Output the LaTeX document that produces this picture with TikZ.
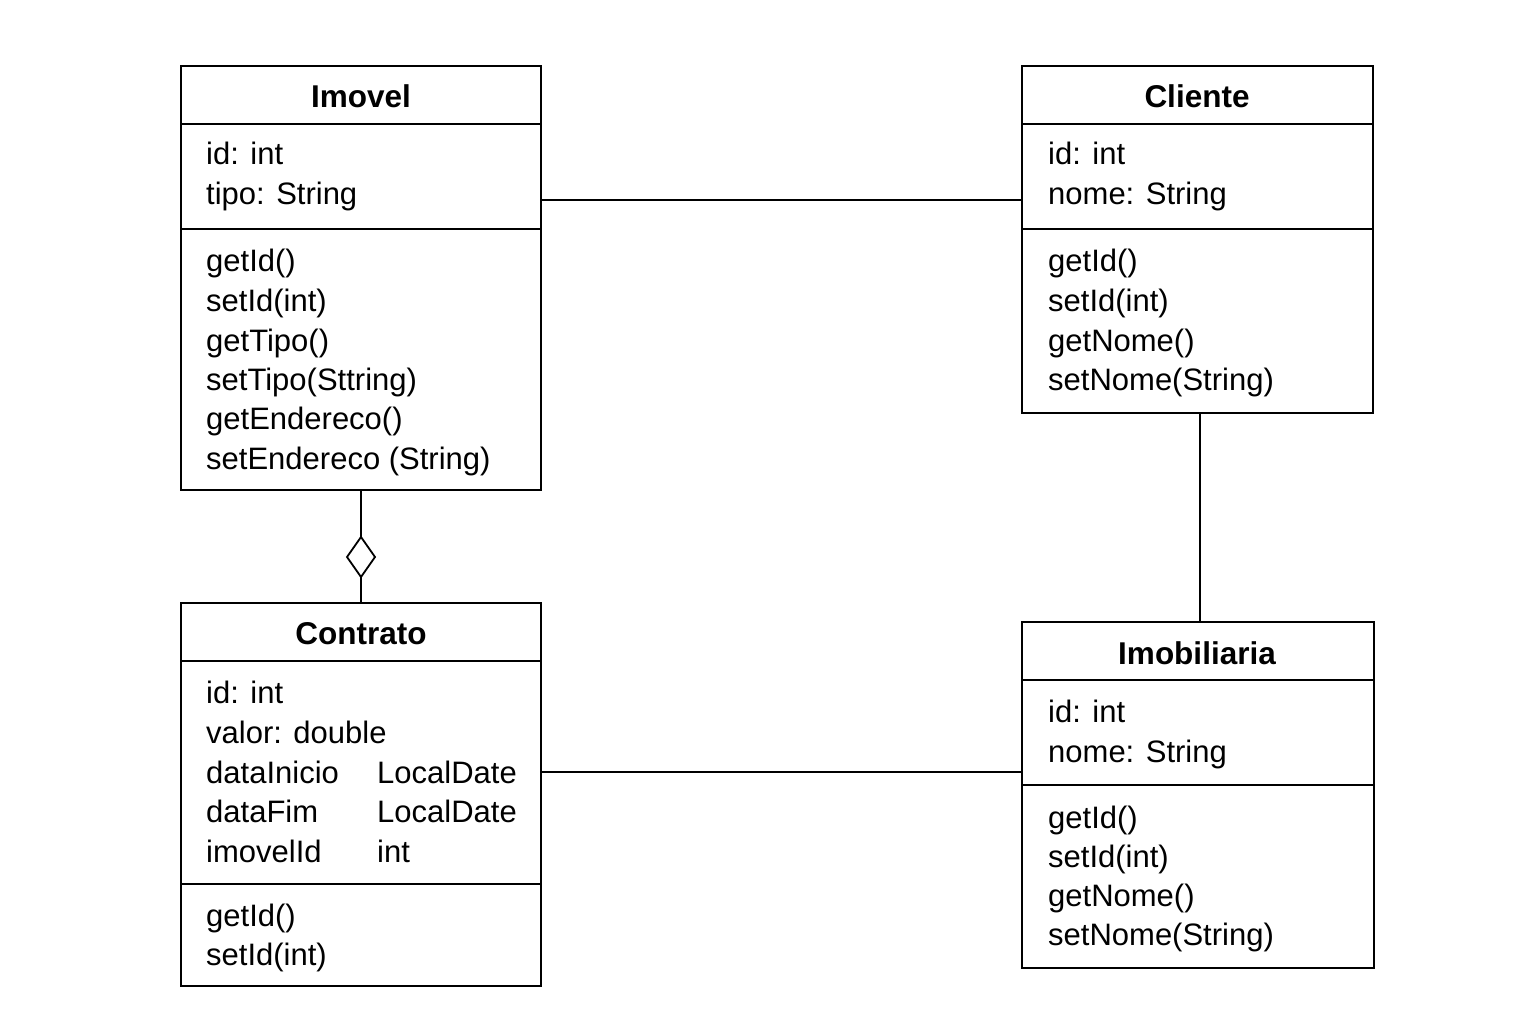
\documentclass[tikz,border=0pt]{standalone}
\usepackage{fontspec}
\setmainfont{Liberation Sans}
\usetikzlibrary{shapes.geometric}
\begin{document}
\begin{tikzpicture}[x=1pt,y=-1pt,
  box/.style={draw,line width=1.8pt,inner sep=0pt,outer sep=0pt,anchor=north west},
  sep/.style={line width=1.8pt},
  conn/.style={line width=1.8pt},
  txt/.style={anchor=base west,inner sep=0pt,font=\fontsize{31}{37}\selectfont},
  ttl/.style={anchor=base,inner sep=0pt,font=\fontsize{31.5}{37}\selectfont\bfseries},
  agg/.style={draw,line width=1.8pt,shape=diamond,inner sep=0pt,outer sep=0pt,minimum width=28pt,minimum height=40pt,fill=white}]
\useasboundingbox (0,0) rectangle (1536,1024);
\fill[white] (0,0) rectangle (1536,1024);
% Imovel
\node[box,minimum width=360pt,minimum height=424pt] (imovel) at (181,66) {};
\draw[sep] (181,124) -- (541,124);
\draw[sep] (181,229) -- (541,229);
\node[ttl] (imovelT) at (361,108) {Imovel};
\node[txt] (im1) at (206,165) {id: int};
\node[txt] (im2) at (206,205) {tipo: String};
\node[txt] (im3) at (206,272) {getId()};
\node[txt] (im4) at (206,311) {setId(int)};
\node[txt] (im5) at (206,351) {getTipo()};
\node[txt] (im6) at (206,390) {setTipo(Sttring)};
\node[txt] (im7) at (206,429) {getEndereco()};
\node[txt] (im8) at (206,469) {setEndereco (String)};
% Cliente
\node[box,minimum width=351pt,minimum height=347pt] (cliente) at (1022,66) {};
\draw[sep] (1022,124) -- (1373,124);
\draw[sep] (1022,229) -- (1373,229);
\node[ttl] (clienteT) at (1197,108) {Cliente};
\node[txt] (cl1) at (1048,165) {id: int};
\node[txt] (cl2) at (1048,205) {nome: String};
\node[txt] (cl3) at (1048,272) {getId()};
\node[txt] (cl4) at (1048,311) {setId(int)};
\node[txt] (cl5) at (1048,351) {getNome()};
\node[txt] (cl6) at (1048,390) {setNome(String)};
% Contrato
\node[box,minimum width=360pt,minimum height=383pt] (contrato) at (181,603) {};
\draw[sep] (181,661) -- (541,661);
\draw[sep] (181,884) -- (541,884);
\node[ttl] (contratoT) at (361,644) {Contrato};
\node[txt] (co1) at (206,703) {id: int};
\node[txt] (co2) at (206,743) {valor: double};
\node[txt] (co3) at (206,783) {dataInicio};
\node[txt] (co3b) at (377,783) {LocalDate};
\node[txt] (co4) at (206,822) {dataFim};
\node[txt] (co4b) at (377,822) {LocalDate};
\node[txt] (co5) at (206,862) {imovelId};
\node[txt] (co5b) at (377,862) {int};
\node[txt] (co6) at (206,926) {getId()};
\node[txt] (co7) at (206,965) {setId(int)};
% Imobiliaria
\node[box,minimum width=352pt,minimum height=346pt] (imob) at (1022,622) {};
\draw[sep] (1022,680) -- (1374,680);
\draw[sep] (1022,785) -- (1374,785);
\node[ttl] (imobT) at (1197,664) {Imobiliaria};
\node[txt] (ib1) at (1048,722) {id: int};
\node[txt] (ib2) at (1048,762) {nome: String};
\node[txt] (ib3) at (1048,828) {getId()};
\node[txt] (ib4) at (1048,867) {setId(int)};
\node[txt] (ib5) at (1048,906) {getNome()};
\node[txt] (ib6) at (1048,945) {setNome(String)};
% connectors
\coordinate (a1) at (541,200);
\coordinate (a2) at (1022,200);
\draw[conn] (a1) -- (a2);
\coordinate (b1) at (1200,413);
\coordinate (b2) at (1200,622);
\draw[conn] (b1) -- (b2);
\coordinate (c1) at (541,772);
\coordinate (c2) at (1022,772);
\draw[conn] (c1) -- (c2);
\node[agg] (dia) at (361,557) {};
\draw[conn] (imovel.south) -- (dia.north);
\draw[conn] (dia.south) -- (contrato.north);
\end{tikzpicture}
\end{document}
